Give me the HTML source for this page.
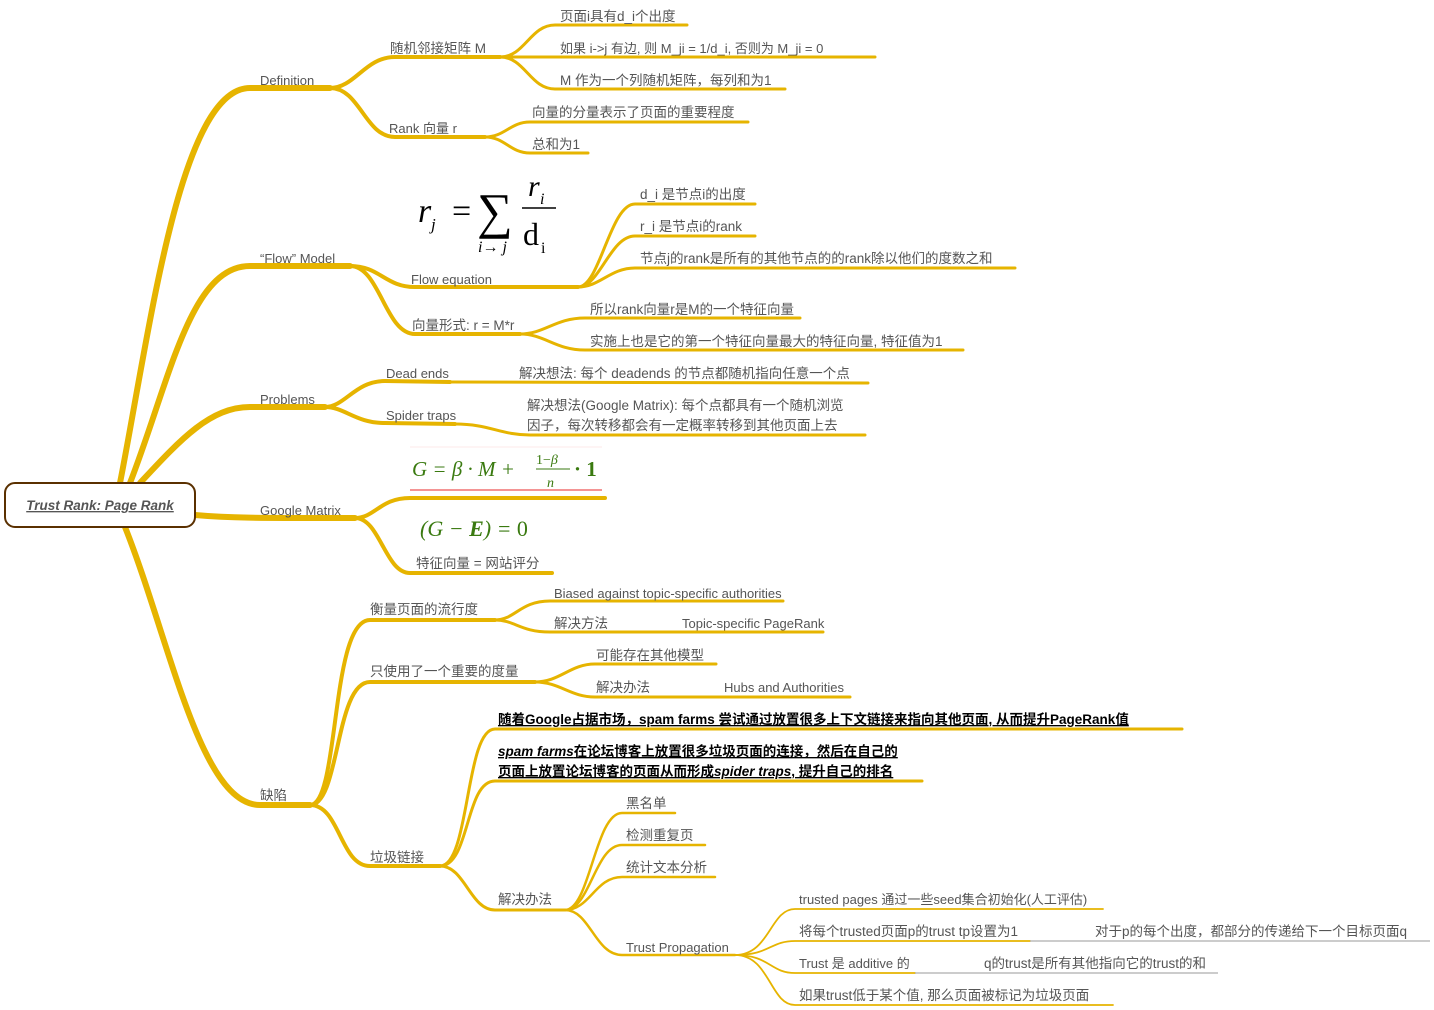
<!DOCTYPE html>
<html><head><meta charset="utf-8"><style>
html,body{margin:0;padding:0;background:#fff;width:1434px;height:1010px;overflow:hidden}
svg{display:block}
text{font-family:"Liberation Sans","Noto Sans CJK SC",sans-serif;font-size:13px;fill:#555}
.c{font-size:13.5px}
.b{font-weight:bold;fill:#000;text-decoration:underline;font-size:13.5px}
.f{font-family:"Liberation Serif","DejaVu Serif",serif;fill:#000}
.g{font-family:"Liberation Serif","DejaVu Serif",serif;fill:#3a7a10;font-style:italic}
</style></head><body>
<svg width="1434" height="1010" viewBox="0 0 1434 1010" xmlns="http://www.w3.org/2000/svg">
<g fill="none" stroke="#E6B400" stroke-linecap="round">
<g stroke-width="6">
<path d="M120 483 C150 330 180 88 250 88 L330 88"/>
<path d="M130 483 C170 380 190 266 250 266 L350 266"/>
<path d="M140 483 C180 440 210 407 250 407 L325 407"/>
<path d="M195 515 C230 518 250 518 355 518"/>
<path d="M125 527 C170 640 200 805 260 805 L310 805"/>
</g>
<g stroke-width="4">
<path d="M330 88 C355 88 365 57 395 57 L500 57"/>
<path d="M330 88 C360 88 365 137 395 137 L485 137"/>
<path d="M350 266 C380 266 385 287 415 287 L578 287"/>
<path d="M350 266 C380 266 385 334 415 334 L520 334"/>
<path d="M325 407 C345 407 355 381 385 381 L450 382"/>
<path d="M325 407 C345 407 355 423 385 423 L455 424"/>
<path d="M355 518 C375 518 380 498 410 498 L605 498"/>
<path d="M355 518 C380 518 385 573 410 573 L552 573"/>
<path d="M310 805 C340 805 330 620 370 620 L495 620"/>
<path d="M310 805 C340 805 335 682 370 682 L535 682"/>
<path d="M310 805 C340 805 340 866 370 866 L440 866"/>
</g>
<g stroke-width="3">
<path d="M500 57 C525 57 530 25 555 25 L687 25"/>
<path d="M500 57 L875 57"/>
<path d="M500 57 C525 57 530 89 555 89 L785 89"/>
<path d="M485 137 C505 137 510 122 530 122 L748 122"/>
<path d="M485 137 C505 137 510 153 530 153 L588 153"/>
<path d="M578 287 C600 287 610 204 635 204 L755 204"/>
<path d="M578 287 C600 287 610 236 635 236 L755 236"/>
<path d="M578 287 C600 287 610 268 635 268 L1015 268"/>
<path d="M520 334 C545 334 555 318 585 318 L800 318"/>
<path d="M520 334 C545 334 555 350 585 350 L963 350"/>
<path d="M450 382 L868 383"/>
<path d="M455 424 C490 424 500 435 530 435 L865 435"/>
<path d="M495 620 C515 620 520 601 550 601 L783 601"/>
<path d="M495 620 C515 620 520 632 550 632 L615 632 L823 632"/>
<path d="M535 682 C560 682 570 664 595 664 L716 664"/>
<path d="M535 682 C560 682 570 697 595 697 L850 697"/>
<path d="M440 866 C470 866 465 729 495 729 L1182 729"/>
<path d="M440 866 C470 866 465 781 495 781 L922 781"/>
<path d="M440 866 C465 866 470 910 495 910 L565 910"/>
</g>
<g stroke-width="2.5">
<path d="M565 910 C590 910 595 813 622 813 L675 813"/>
<path d="M565 910 C590 910 595 845 622 845 L705 845"/>
<path d="M565 910 C590 910 595 877 622 877 L715 877"/>
<path d="M565 910 C590 910 595 955 622 955 L735 955"/>
</g>
<g stroke-width="1.8">
<path d="M735 955 C770 955 770 909 795 909 L1103 909"/>
<path d="M735 955 C770 955 770 941 795 941 L1030 941"/>
<path d="M735 955 C770 955 770 973 795 973 L915 973"/>
<path d="M735 955 C770 955 770 1005 795 1005 L1113 1005"/>
</g>
</g>
<g stroke="#999" stroke-width="1">
<line x1="1030" y1="941" x2="1430" y2="941"/>
<line x1="915" y1="973" x2="1218" y2="973"/>
</g>
<rect x="5" y="483" width="190" height="44" rx="10" fill="#fff" stroke="#5a3000" stroke-width="2"/>
<text x="100" y="510" text-anchor="middle" style="font-size:13.5px;font-weight:bold;font-style:italic;text-decoration:underline;fill:#555">Trust Rank: Page Rank</text>

<text x="260" y="85">Definition</text>
<text x="260" y="263">“Flow” Model</text>
<text x="260" y="404">Problems</text>
<text x="260" y="515">Google Matrix</text>
<text x="260" y="800" class="c">缺陷</text>

<text x="390" y="53" class="c">随机邻接矩阵 M</text>
<text x="389" y="133">Rank 向量 r</text>
<text x="560" y="21" class="c">页面i具有d_i个出度</text>
<text x="560" y="53">如果 i-&gt;j 有边, 则 M_ji = 1/d_i, 否则为 M_ji = 0</text>
<text x="560" y="85" class="c">M 作为一个列随机矩阵，每列和为1</text>
<text x="532" y="117" class="c">向量的分量表示了页面的重要程度</text>
<text x="532" y="149" class="c">总和为1</text>

<text class="f" x="418" y="222" style="font-size:34px;font-style:italic">r</text>
<text class="f" x="431" y="230" style="font-size:17px;font-style:italic">j</text>
<text class="f" x="452" y="222" style="font-size:34px">=</text>
<text class="f" x="477" y="228" style="font-size:50px">∑</text>
<text class="f" x="478" y="252" style="font-size:16px;font-style:italic">i→ j</text>
<text class="f" x="528" y="196" style="font-size:30px;font-style:italic">r</text>
<text class="f" x="540" y="204" style="font-size:16px;font-style:italic">i</text>
<line x1="522" y1="208" x2="556" y2="208" stroke="#000" stroke-width="1.5"/>
<text class="f" x="523" y="245" style="font-size:32px">d</text>
<text class="f" x="541" y="253" style="font-size:16px">i</text>

<text x="411" y="284">Flow equation</text>
<text x="412" y="330" class="c">向量形式: r = M*r</text>
<text x="640" y="199" class="c">d_i 是节点i的出度</text>
<text x="640" y="231" class="c">r_i 是节点i的rank</text>
<text x="640" y="263" class="c">节点j的rank是所有的其他节点的的rank除以他们的度数之和</text>
<text x="590" y="314" class="c">所以rank向量r是M的一个特征向量</text>
<text x="590" y="346" class="c">实施上也是它的第一个特征向量最大的特征向量, 特征值为1</text>

<text x="386" y="378">Dead ends</text>
<text x="386" y="420">Spider traps</text>
<text x="519" y="378" class="c">解决想法: 每个 deadends 的节点都随机指向任意一个点</text>
<text x="527" y="410" class="c">解决想法(Google Matrix): 每个点都具有一个随机浏览</text>
<text x="527" y="430" class="c">因子，每次转移都会有一定概率转移到其他页面上去</text>

<line x1="410" y1="447" x2="602" y2="447" stroke="#fde8e8" stroke-width="1"/>
<line x1="410" y1="490" x2="602" y2="490" stroke="#f07070" stroke-width="1.5"/>
<text class="g" x="412" y="476" style="font-size:21px">G = β · M +</text>
<text class="g" x="536" y="464" style="font-size:14px;font-style:normal">1−<tspan font-style="italic">β</tspan></text>
<line x1="536" y1="469" x2="570" y2="469" stroke="#3a7a10" stroke-width="1"/>
<text class="g" x="547" y="487" style="font-size:14px">n</text>
<text class="g" x="574" y="476" style="font-size:21px;font-style:normal;font-weight:bold">· 1</text>
<text class="g" x="420" y="536" style="font-size:22px">(G − <tspan font-weight="bold">E</tspan>) = <tspan font-style="normal">0</tspan></text>
<text x="416" y="568" class="c">特征向量 = 网站评分</text>

<text x="370" y="614" class="c">衡量页面的流行度</text>
<text x="370" y="676" class="c">只使用了一个重要的度量</text>
<text x="370" y="862" class="c">垃圾链接</text>
<text x="554" y="598">Biased against topic-specific authorities</text>
<text x="554" y="628" class="c">解决方法</text>
<text x="682" y="628">Topic-specific PageRank</text>
<text x="596" y="660" class="c">可能存在其他模型</text>
<text x="596" y="692" class="c">解决办法</text>
<text x="724" y="692">Hubs and Authorities</text>
<text class="b" x="498" y="724">随着Google占据市场，spam farms 尝试通过放置很多上下文链接来指向其他页面, 从而提升PageRank值</text>
<text class="b" x="498" y="756"><tspan font-style="italic">spam farms</tspan>在论坛博客上放置很多垃圾页面的连接，然后在自己的</text>
<text class="b" x="498" y="776">页面上放置论坛博客的页面从而形成<tspan font-style="italic">spider traps</tspan>, 提升自己的排名</text>
<text x="498" y="904" class="c">解决办法</text>
<text x="626" y="808" class="c">黑名单</text>
<text x="626" y="840" class="c">检测重复页</text>
<text x="626" y="872" class="c">统计文本分析</text>
<text x="626" y="952">Trust Propagation</text>
<text x="799" y="904">trusted pages 通过一些seed集合初始化(人工评估)</text>
<text x="799" y="936" class="c">将每个trusted页面p的trust tp设置为1</text>
<text x="1095" y="936" class="c">对于p的每个出度，都部分的传递给下一个目标页面q</text>
<text x="799" y="968">Trust 是 additive 的</text>
<text x="984" y="968" class="c">q的trust是所有其他指向它的trust的和</text>
<text x="799" y="1000" class="c">如果trust低于某个值, 那么页面被标记为垃圾页面</text>
</svg>
</body></html>
